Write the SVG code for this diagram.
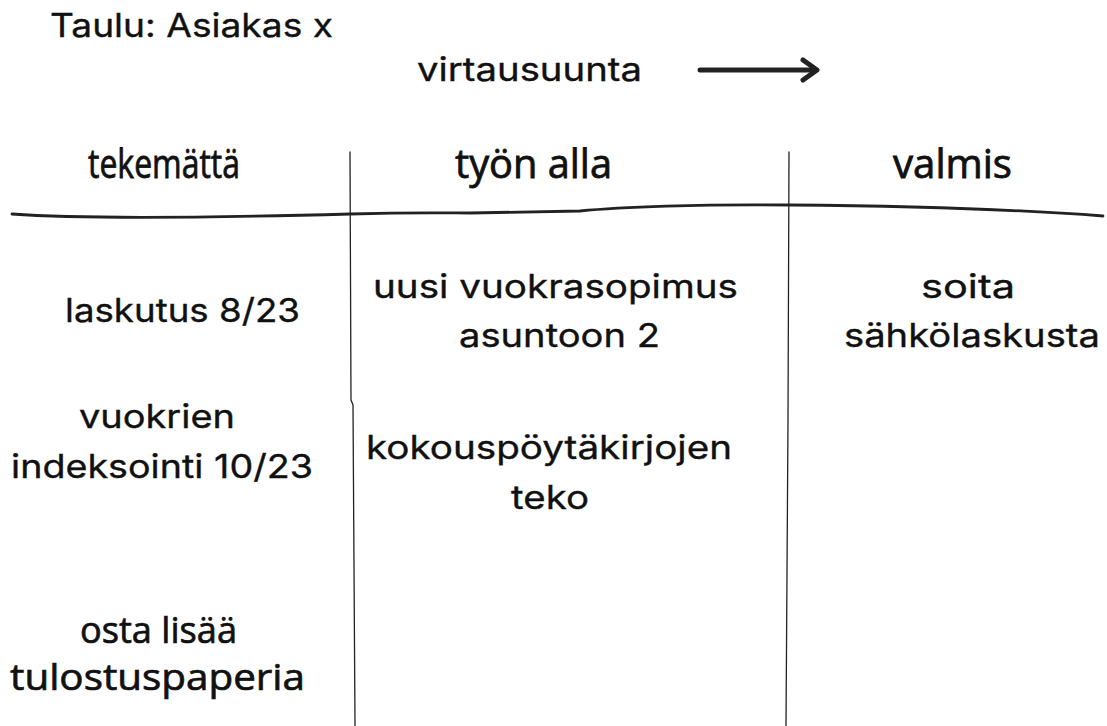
<svg xmlns="http://www.w3.org/2000/svg" width="1107" height="726" viewBox="0 0 1107 726">
<style>
.t{font-family:Inter,"Noto Sans",sans-serif;font-size:33px;font-weight:400;fill:#111;stroke:#111;stroke-width:0.35;}
.h{font-family:"Open Sans","Noto Sans",sans-serif;font-size:40px;font-weight:400;fill:#111;stroke:#111;stroke-width:0.8;}
.c{font-family:"Open Sans","Noto Sans",sans-serif;font-size:37px;font-weight:400;fill:#111;stroke:#111;stroke-width:0.7;}
.ln{stroke:#222;fill:none;stroke-linecap:round;}
</style>
<rect width="1107" height="726" fill="#fff"/>
<g id="title"><text class="t" x="50" y="37" textLength="283" lengthAdjust="spacingAndGlyphs">Taulu: Asiakas x</text></g>
<g id="flow">
<text class="t" x="417" y="81" textLength="225" lengthAdjust="spacingAndGlyphs">virtausuunta</text>
<path class="ln" d="M700 70 H815" stroke="#000" stroke-width="5"/>
<path class="ln" d="M803 60 L817 70 L803 80" stroke="#000" stroke-width="5" stroke-linejoin="round"/>
</g>
<g id="grid">
<path class="ln" stroke-width="2.8" d="M12 214 C80 219 200 218 350 214 C420 212 450 213 470 213 L580 211 C620 207 700 204 790 205 C900 206 1000 208 1103 216"/>
<path class="ln" stroke-width="1.3" d="M350 152 L351 400 L353 405 L355 726"/>
<path class="ln" stroke-width="1.3" d="M789 152 L788 420 L786 726"/>
</g>
<g id="col-tekematta"><text class="h" x="88" y="178" textLength="152" lengthAdjust="spacingAndGlyphs">tekemättä</text></g>
<g id="col-tyon-alla"><text class="h" x="455" y="178" textLength="157" lengthAdjust="spacingAndGlyphs">työn alla</text></g>
<g id="col-valmis"><text class="h" x="893" y="178" textLength="119" lengthAdjust="spacingAndGlyphs">valmis</text></g>
<g id="laskutus"><text class="t" x="65" y="322" textLength="235" lengthAdjust="spacingAndGlyphs">laskutus 8/23</text></g>
<g id="vuokrien">
<text class="t" x="79" y="428" textLength="156" lengthAdjust="spacingAndGlyphs">vuokrien</text>
<text class="t" x="11" y="478" textLength="302" lengthAdjust="spacingAndGlyphs">indeksointi 10/23</text>
</g>
<g id="osta">
<text class="c" x="80" y="643" textLength="157" lengthAdjust="spacingAndGlyphs">osta lisää</text>
<text class="c" x="10" y="690" textLength="295" lengthAdjust="spacingAndGlyphs">tulostuspaperia</text>
</g>
<g id="vuokrasopimus">
<text class="t" x="373" y="298" textLength="365" lengthAdjust="spacingAndGlyphs">uusi vuokrasopimus</text>
<text class="t" x="459" y="347" textLength="201" lengthAdjust="spacingAndGlyphs">asuntoon 2</text>
</g>
<g id="kokous">
<text class="t" x="366" y="459" textLength="366" lengthAdjust="spacingAndGlyphs">kokouspöytäkirjojen</text>
<text class="t" x="511" y="509" textLength="78" lengthAdjust="spacingAndGlyphs">teko</text>
</g>
<g id="soita">
<text class="t" x="921" y="298" textLength="94" lengthAdjust="spacingAndGlyphs">soita</text>
<text class="t" x="844" y="347" textLength="256" lengthAdjust="spacingAndGlyphs">sähkölaskusta</text>
</g>
</svg>
